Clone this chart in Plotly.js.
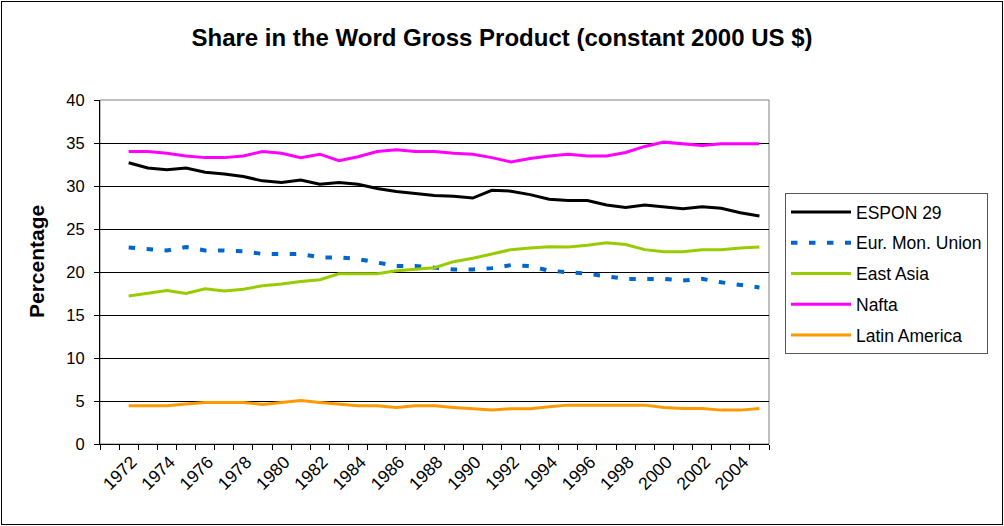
<!DOCTYPE html>
<html>
<head>
<meta charset="utf-8">
<script src="https://cdn.plot.ly/plotly-3.0.1.min.js"></script>
<style>
  html, body { margin: 0; padding: 0; background: #fff; }
  #wrap { position: relative; width: 1004px; height: 526px; }
  #chart { width: 1004px; height: 526px; }
  #frame { position: absolute; left: 1px; top: 1px; width: 1000px; height: 522px; border: 1px solid #000; pointer-events: none; }
</style>
</head>
<body>
<div id="wrap">
  <div id="chart"></div>
  <div id="frame"></div>
</div>
<script>
const years = [1972,1973,1974,1975,1976,1977,1978,1979,1980,1981,1982,1983,1984,1985,1986,1987,1988,1989,1990,1991,1992,1993,1994,1995,1996,1997,1998,1999,2000,2001,2002,2003,2004,2005];
const espon29 = [32.7,32.1,31.9,32.1,31.6,31.4,31.1,30.6,30.4,30.7,30.2,30.4,30.2,29.7,29.35,29.1,28.9,28.8,28.6,29.5,29.4,29.0,28.45,28.3,28.3,27.8,27.5,27.8,27.6,27.35,27.6,27.4,26.9,26.5];
const eurMonUnion = [22.85,22.7,22.5,22.9,22.5,22.5,22.4,22.1,22.1,22.1,21.7,21.7,21.5,21.15,20.7,20.7,20.45,20.3,20.3,20.45,20.8,20.7,20.15,20.0,19.8,19.5,19.2,19.2,19.2,19.0,19.2,18.8,18.45,18.2];
const eastAsia = [17.2,17.55,17.85,17.5,18.05,17.8,18.0,18.4,18.6,18.9,19.1,19.8,19.8,19.8,20.15,20.35,20.5,21.2,21.6,22.1,22.6,22.8,22.95,22.9,23.1,23.4,23.2,22.6,22.35,22.35,22.6,22.6,22.8,22.9];
const nafta = [34.0,34.0,33.8,33.5,33.3,33.3,33.5,34.0,33.8,33.3,33.7,32.95,33.4,34.0,34.2,34.0,34.0,33.8,33.7,33.3,32.8,33.2,33.5,33.7,33.5,33.5,33.9,34.6,35.1,34.9,34.7,34.9,34.9,34.9];
const latinAmerica = [4.44,4.44,4.44,4.64,4.83,4.83,4.83,4.6,4.83,5.07,4.83,4.64,4.44,4.44,4.25,4.44,4.44,4.25,4.1,3.94,4.1,4.1,4.33,4.52,4.52,4.52,4.52,4.52,4.25,4.14,4.14,3.94,3.94,4.14];
const tickYears = [1972,1974,1976,1978,1980,1982,1984,1986,1988,1990,1992,1994,1996,1998,2000,2002,2004];
const tickLabels = tickYears.map(String);
const yTicks = [0,5,10,15,20,25,30,35,40];

const FONT = 'Liberation Sans, Arial, sans-serif';

function tr(name, y, color, dash, width, g) {
  return {
    x: years, y: y, name: name, type: 'scatter', mode: 'lines',
    line: {color: color, width: width, dash: dash || 'solid'},
    legendgroup: g
  };
}

const data = [
  tr('ESPON 29', espon29, '#000000', 'solid', 3, 'a'),
  tr('Eur. Mon. Union', eurMonUnion, '#0066CC', '6.5px,11.5px', 4, 'b'),
  tr('East Asia', eastAsia, '#99CC00', 'solid', 3, 'c'),
  tr('Nafta', nafta, '#FF00FF', 'solid', 3, 'd'),
  tr('Latin America', latinAmerica, '#FF9900', 'solid', 3, 'e')
];

const L = 100, R = 769, T = 100, B = 444;
const pw = R - L, ph = B - T;

const layout = {
  width: 1004, height: 526,
  margin: {l: L, r: 1004 - R, t: T, b: 526 - B, pad: 0},
  paper_bgcolor: '#fff', plot_bgcolor: '#fff',
  font: {family: FONT, color: '#000', size: 16},
  title: {
    text: '<b>Share in the Word Gross Product (constant 2000 US $)</b>',
    font: {family: FONT, size: 24, color: '#000'},
    xref: 'container', x: 0.5, xanchor: 'center',
    yref: 'container', y: 1 - 38 / 526, yanchor: 'middle'
  },
  xaxis: {
    range: [1970.5, 2005.5],
    tickmode: 'array', tickvals: tickYears, ticktext: tickLabels,
    ticks: '', tickangle: -45,
    ticklabelshift: 3,
    tickfont: {family: FONT, size: 17.5, color: '#000'},
    showgrid: false, zeroline: false,
    showline: true, linecolor: '#000', linewidth: 1,
    minor: {tickmode: 'linear', tick0: 1970.5, dtick: 1, ticks: 'outside', ticklen: 5, tickcolor: '#000', tickwidth: 1, showgrid: false},
    fixedrange: true
  },
  yaxis: {
    range: [0, 40], tickmode: 'array', tickvals: yTicks,
    ticks: 'outside', ticklen: 5, tickcolor: '#000', tickwidth: 1,
    ticklabelstandoff: 6,
    tickfont: {family: FONT, size: 16.5, color: '#000'},
    showgrid: true, gridcolor: '#000', gridwidth: 1,
    zeroline: false, showline: true, linecolor: '#000', linewidth: 1,
    fixedrange: true
  },
  shapes: [
    {type: 'rect', xref: 'paper', yref: 'paper', x0: 0, x1: 1, y0: 0, y1: 1,
     line: {color: '#808080', width: 1}, layer: 'below'}
  ],
  annotations: [
    {text: '<b>Percentage</b>', textangle: -90, showarrow: false,
     xref: 'paper', yref: 'paper',
     x: (36 - L) / pw, y: (B - 262) / ph, xanchor: 'center', yanchor: 'middle',
     font: {family: FONT, size: 21, color: '#000'}}
  ],
  showlegend: true,
  legend: {
    x: (785 - L) / pw, xanchor: 'left',
    y: (B - 193) / ph, yanchor: 'top',
    bgcolor: '#fff', bordercolor: '#555', borderwidth: 1,
    font: {family: FONT, size: 17.5, color: '#000'},
    traceorder: 'grouped', tracegroupgap: 5,
    itemwidth: 60
  }
};

Plotly.newPlot('chart', data, layout, {displayModeBar: false, staticPlot: true});
</script>
</body>
</html>
